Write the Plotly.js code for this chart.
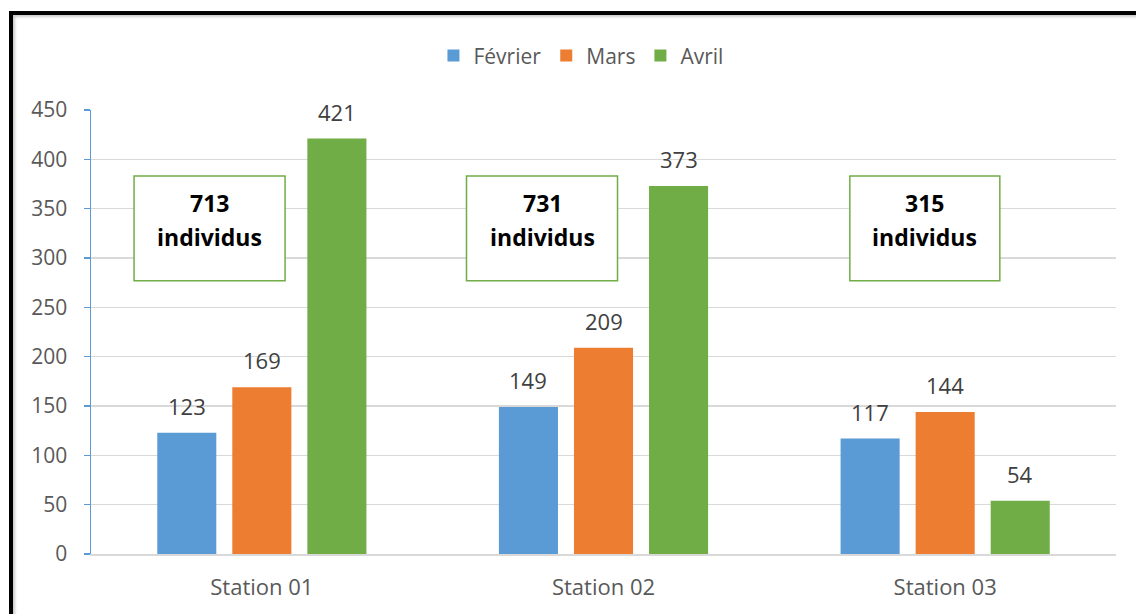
<!DOCTYPE html>
<html>
<head>
<meta charset="utf-8">
<script src="https://cdn.plot.ly/plotly-3.0.1.min.js"></script>
<style>
  html, body { margin: 0; padding: 0; background: #ffffff; }
  #wrap { position: relative; width: 1136px; height: 614px; overflow: hidden; }
  #chart { position: absolute; left: 0; top: 0; width: 1136px; height: 614px; }
  #frame {
    position: absolute; left: 9px; top: 11px; width: 1140px; height: 620px;
    border-top: 4px solid #000; border-left: 4px solid #000;
    box-shadow: inset 2px 2px 3px rgba(0,0,0,0.22);
    pointer-events: none;
  }
</style>
</head>
<body>
<div id="wrap">
  <div id="chart"></div>
  <div id="frame"></div>
</div>
<script>
// Monthly counts per sampling station
const stations = ['Station 01', 'Station 02', 'Station 03'];
const months = ['Février', 'Mars', 'Avril'];
const fevrier = [123, 149, 117];
const mars = [169, 209, 144];
const avril = [421, 373, 54];
const yTicks = [0, 50, 100, 150, 200, 250, 300, 350, 400, 450];

const series = [fevrier, mars, avril];
const colors = ['#5B9BD5', '#ED7D31', '#70AD47'];
const FONT = '"Open Sans", "Noto Sans", sans-serif';

const BARGAP = 0.341;
const GROUPGAP = 0.213;
const slot = (1 - BARGAP) / series.length;

const traces = series.map((vals, j) => ({
  type: 'bar',
  name: months[j],
  x: stations,
  y: vals,
  marker: { color: colors[j], line: { width: 0 } },
  hoverinfo: 'skip'
}));

// value labels above each bar
const annotations = [];
series.forEach((vals, j) => {
  vals.forEach((v, i) => {
    annotations.push({
      x: i + (j - (series.length - 1) / 2) * slot,
      y: v,
      xref: 'x', yref: 'y',
      text: String(v),
      showarrow: false,
      yanchor: 'bottom',
      yshift: 10,
      font: { family: FONT, size: 22, color: '#404040' }
    });
  });
});

// totals per station shown in framed boxes
const totals = stations.map((_, i) => series.reduce((s, vals) => s + vals[i], 0));
const boxSpans = [[-0.374, 0.068], [-0.401, 0.041], [-0.279, 0.160]];
const boxY = [277, 383];
const shapes = [];
totals.forEach((t, i) => {
  const x0 = i + boxSpans[i][0], x1 = i + boxSpans[i][1];
  shapes.push({
    type: 'rect', xref: 'x', yref: 'y',
    x0: x0, x1: x1, y0: boxY[0], y1: boxY[1],
    line: { color: '#70AD47', width: 1.5 },
    fillcolor: '#ffffff', layer: 'above'
  });
  const xc = (x0 + x1) / 2;
  annotations.push({
    x: xc, y: 356, xref: 'x', yref: 'y',
    text: '<b>' + t + '</b>', showarrow: false,
    font: { family: FONT, size: 23, color: '#000000' }
  });
  annotations.push({
    x: xc, y: 321.5, xref: 'x', yref: 'y',
    text: '<b>individus</b>', showarrow: false,
    font: { family: FONT, size: 23, color: '#000000' }
  });
});

const layout = {
  width: 1136, height: 614,
  margin: { l: 91, r: 20, t: 110, b: 60 },
  paper_bgcolor: '#ffffff',
  plot_bgcolor: '#ffffff',
  barmode: 'group',
  bargap: BARGAP,
  bargroupgap: GROUPGAP,
  showlegend: true,
  legend: {
    orientation: 'h',
    x: 0.478, xanchor: 'center',
    y: 1.122, yanchor: 'middle',
    font: { family: FONT, size: 21, color: '#595959' },
    itemwidth: 30,
    traceorder: 'normal'
  },
  xaxis: {
    type: 'category',
    showgrid: false,
    showline: true,
    linecolor: '#D9D9D9',
    linewidth: 1.5,
    ticks: '',
    ticklabelstandoff: 13,
    tickfont: { family: FONT, size: 22, color: '#595959' },
    fixedrange: true
  },
  yaxis: {
    range: [0, 450],
    tickvals: yTicks,
    ticktext: yTicks.map(String),
    showgrid: true,
    gridcolor: '#D9D9D9',
    gridwidth: 1.5,
    zeroline: false,
    showline: true,
    linecolor: '#5B9BD5',
    linewidth: 1.5,
    ticks: 'outside',
    ticklen: 6,
    tickcolor: '#5B9BD5',
    tickwidth: 1.5,
    ticklabelstandoff: 12,
    tickfont: { family: FONT, size: 21, color: '#595959' },
    fixedrange: true
  },
  shapes: shapes,
  annotations: annotations
};

Plotly.newPlot('chart', traces, layout, { displayModeBar: false, staticPlot: true });
</script>
</body>
</html>
